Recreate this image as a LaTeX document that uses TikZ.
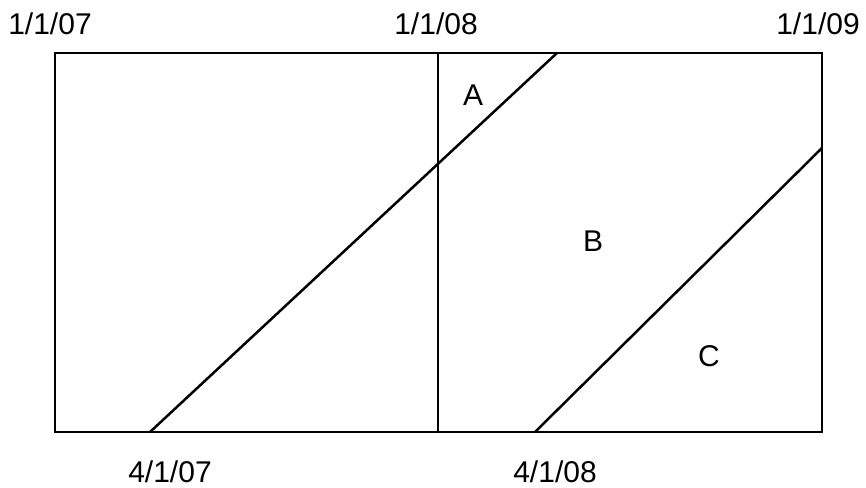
\documentclass[tikz,border=0pt]{standalone}
\usepackage{fontspec}
\setmainfont{Liberation Sans}
\tikzset{
  lbl/.style={anchor=base, inner sep=0pt, font=\fontsize{30}{35}\selectfont},
  edge/.style={line width=2.5pt, line cap=rect}
}
\begin{document}
\begin{tikzpicture}[x=1pt,y=-1pt]
\useasboundingbox (0,0) rectangle (866,487);
% frame
\draw[edge] (55,53) rectangle (822,432);
\draw[edge] (438,53) -- (438,432);
% diagonals
\draw[line width=2.5pt] (150,432) -- (557,53);
\draw[line width=2.5pt] (535,432) -- (822,148);
% date labels
\node[lbl] (d1) at (50,35) {1/1/07};
\node[lbl] (d2) at (436,35) {1/1/08};
\node[lbl] (d3) at (818,35) {1/1/09};
\node[lbl] (d4) at (170,482) {4/1/07};
\node[lbl] (d5) at (555,482) {4/1/08};
% region labels
\node[lbl] (a) at (473,105) {A};
\node[lbl] (b) at (593,251) {B};
\node[lbl] (c) at (709,366) {C};
\end{tikzpicture}
\end{document}
